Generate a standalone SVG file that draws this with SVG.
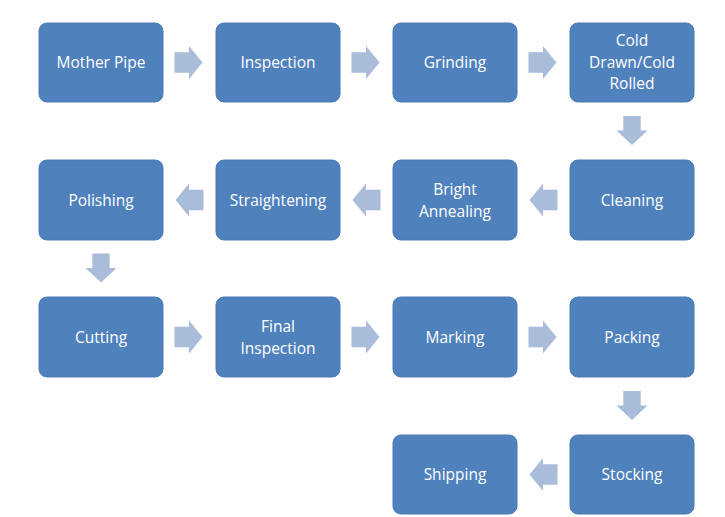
<svg xmlns="http://www.w3.org/2000/svg" width="725" height="517" viewBox="0 0 725 517">
<style>
.box{fill:#4F81BD;stroke:#4A7BB6;stroke-width:1}
.lbl{fill:#ffffff;font-family:"Open Sans","Liberation Sans",sans-serif;font-size:15.5px;text-anchor:middle}
.arr{fill:#A9BCDA}
</style>
<defs>
<path id="ar" d="M-14,-10.3 H0.5 V-16.5 L14,0 L0.5,16.5 V10.3 H-14 Z"/>
<path id="ad" d="M-8.7,-14.5 V0 H-15.5 L0,14.5 L15.5,0 H8.7 V-14.5 Z"/>
</defs>
<rect width="725" height="517" fill="#ffffff"/>
<g id="n1"><rect class="box" x="39" y="23" width="124" height="79" rx="8"/><text class="lbl" x="101" y="68">Mother Pipe</text></g>
<g id="n2"><rect class="box" x="216" y="23" width="124" height="79" rx="8"/><text class="lbl" x="278" y="68">Inspection</text></g>
<g id="n3"><rect class="box" x="393" y="23" width="124" height="79" rx="8"/><text class="lbl" x="455" y="68">Grinding</text></g>
<g id="n4"><rect class="box" x="570" y="23" width="124" height="79" rx="8"/><text class="lbl" x="632" y="46">Cold</text><text class="lbl" x="632" y="67.5">Drawn/Cold</text><text class="lbl" x="632" y="89">Rolled</text></g>
<g id="n5"><rect class="box" x="570" y="160" width="124" height="80" rx="8"/><text class="lbl" x="632" y="205.5">Cleaning</text></g>
<g id="n6"><rect class="box" x="393" y="160" width="124" height="80" rx="8"/><text class="lbl" x="455" y="195">Bright</text><text class="lbl" x="455" y="216.5">Annealing</text></g>
<g id="n7"><rect class="box" x="216" y="160" width="124" height="80" rx="8"/><text class="lbl" x="278" y="205.5">Straightening</text></g>
<g id="n8"><rect class="box" x="39" y="160" width="124" height="80" rx="8"/><text class="lbl" x="101" y="205.5">Polishing</text></g>
<g id="n9"><rect class="box" x="39" y="297" width="124" height="80" rx="8"/><text class="lbl" x="101" y="342.5">Cutting</text></g>
<g id="n10"><rect class="box" x="216" y="297" width="124" height="80" rx="8"/><text class="lbl" x="278" y="332">Final</text><text class="lbl" x="278" y="353.5">Inspection</text></g>
<g id="n11"><rect class="box" x="393" y="297" width="124" height="80" rx="8"/><text class="lbl" x="455" y="342.5">Marking</text></g>
<g id="n12"><rect class="box" x="570" y="297" width="124" height="80" rx="8"/><text class="lbl" x="632" y="342.5">Packing</text></g>
<g id="n13"><rect class="box" x="570" y="435" width="124" height="79" rx="8"/><text class="lbl" x="632" y="480">Stocking</text></g>
<g id="n14"><rect class="box" x="393" y="435" width="124" height="79" rx="8"/><text class="lbl" x="455" y="480">Shipping</text></g>
<g id="connectors" class="arr">
<use href="#ar" transform="translate(188.5,62.5)"/>
<use href="#ar" transform="translate(365.5,62.5)"/>
<use href="#ar" transform="translate(542.5,62.5)"/>
<use href="#ad" transform="translate(632,130.5)"/>
<use href="#ar" transform="translate(543.5,200) scale(-1,1)"/>
<use href="#ar" transform="translate(366.5,200) scale(-1,1)"/>
<use href="#ar" transform="translate(189.5,200) scale(-1,1)"/>
<use href="#ad" transform="translate(101,268)"/>
<use href="#ar" transform="translate(188.5,337)"/>
<use href="#ar" transform="translate(365.5,337)"/>
<use href="#ar" transform="translate(542.5,337)"/>
<use href="#ad" transform="translate(632,405.5)"/>
<use href="#ar" transform="translate(543.5,474.5) scale(-1,1)"/>
</g>
</svg>
